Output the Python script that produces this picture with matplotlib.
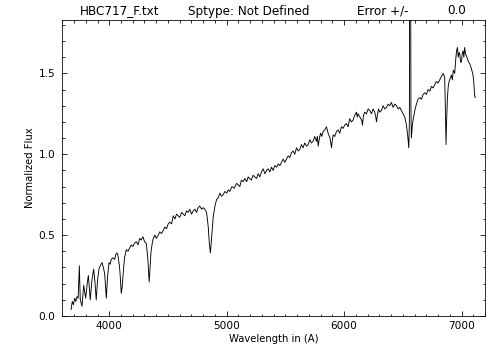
import matplotlib
matplotlib.use("Agg")
import matplotlib.pyplot as plt
from matplotlib.ticker import MultipleLocator

# spectrum
wave = [3675, 3685, 3695, 3705, 3715, 3725, 3735, 3745, 3753, 3768, 3782, 3799, 3812, 3822, 3838,
        3852, 3867, 3878, 3889, 3900, 3912, 3923, 3938, 3950, 3961, 3975, 3985, 3998, 4008, 4017,
        4030, 4046, 4055, 4066, 4075, 4088, 4094, 4102, 4110, 4117, 4130, 4145, 4160, 4173, 4188,
        4202, 4215, 4230, 4245, 4259, 4272, 4287, 4300, 4315, 4328, 4340, 4348, 4356, 4366, 4375,
        4389, 4400, 4418, 4430, 4446, 4460, 4474, 4488, 4502, 4516, 4531, 4545, 4559, 4573, 4587,
        4600, 4616, 4630, 4644, 4658, 4672, 4686, 4701, 4715, 4729, 4743, 4757, 4771, 4786, 4800,
        4814, 4829, 4843, 4852, 4861, 4866, 4871, 4885, 4900, 4914, 4928, 4942, 4956, 4970, 4985,
        5000, 5013, 5027, 5045, 5064, 5084, 5100, 5112, 5125, 5140, 5155, 5170, 5183, 5197, 5210,
        5225, 5240, 5254, 5268, 5282, 5296, 5311, 5325, 5340, 5354, 5368, 5382, 5396, 5410, 5425,
        5440, 5453, 5467, 5481, 5495, 5510, 5524, 5538, 5552, 5566, 5580, 5595, 5610, 5623, 5637,
        5651, 5665, 5680, 5694, 5708, 5722, 5736, 5750, 5765, 5772, 5779, 5790, 5800, 5810, 5821,
        5835, 5850, 5864, 5880, 5893, 5900, 5907, 5920, 5935, 5950, 5963, 5977, 5991, 6005, 6020,
        6034, 6048, 6062, 6076, 6090, 6105, 6112, 6119, 6135, 6150, 6156, 6165, 6176, 6190, 6205,
        6219, 6233, 6247, 6261, 6270, 6276, 6283, 6293, 6304, 6318, 6332, 6347, 6361, 6375, 6389,
        6403, 6418, 6432, 6446, 6460, 6474, 6488, 6503, 6517, 6531, 6541, 6551, 6556, 6560, 6565,
        6569, 6573, 6580, 6587, 6602, 6616, 6630, 6645, 6659, 6673, 6687, 6701, 6715, 6730, 6744,
        6758, 6772, 6786, 6800, 6814, 6828, 6843, 6850, 6857, 6862, 6868, 6873, 6880, 6887, 6894,
        6904, 6914, 6922, 6930, 6942, 6950, 6958, 6965, 6972, 6980, 6985, 6992, 6999, 7006, 7013,
        7020, 7027, 7034, 7041, 7050, 7060, 7070, 7084, 7098, 7105, 7112, 7118]
flux = [0.04, 0.09, 0.07, 0.11, 0.09, 0.12, 0.11, 0.31, 0.10, 0.06, 0.19, 0.11, 0.20, 0.25, 0.10,
        0.22, 0.29, 0.21, 0.10, 0.22, 0.29, 0.31, 0.33, 0.30, 0.26, 0.11, 0.24, 0.33, 0.32, 0.35,
        0.36, 0.35, 0.38, 0.39, 0.37, 0.30, 0.24, 0.14, 0.18, 0.25, 0.36, 0.41, 0.40, 0.42, 0.44,
        0.43, 0.45, 0.46, 0.44, 0.48, 0.47, 0.49, 0.46, 0.45, 0.36, 0.21, 0.30, 0.40, 0.45, 0.48,
        0.50, 0.48, 0.50, 0.52, 0.51, 0.53, 0.55, 0.54, 0.57, 0.58, 0.57, 0.62, 0.60, 0.63, 0.62,
        0.61, 0.64, 0.63, 0.62, 0.65, 0.64, 0.66, 0.63, 0.65, 0.66, 0.64, 0.67, 0.68, 0.66, 0.67,
        0.66, 0.64, 0.55, 0.45, 0.39, 0.43, 0.48, 0.61, 0.68, 0.72, 0.73, 0.76, 0.74, 0.75, 0.77,
        0.76, 0.78, 0.77, 0.80, 0.79, 0.82, 0.81, 0.80, 0.84, 0.83, 0.85, 0.83, 0.86, 0.85, 0.84,
        0.87, 0.86, 0.85, 0.88, 0.86, 0.89, 0.91, 0.88, 0.90, 0.91, 0.89, 0.92, 0.90, 0.93, 0.92,
        0.94, 0.93, 0.95, 0.97, 0.95, 0.97, 0.99, 0.98, 1.01, 1.02, 1.00, 1.04, 1.02, 1.03, 1.06,
        1.04, 1.07, 1.05, 1.06, 1.09, 1.07, 1.08, 1.11, 1.08, 1.11, 1.05, 1.10, 1.13, 1.11, 1.14,
        1.15, 1.17, 1.13, 1.10, 1.04, 1.09, 1.12, 1.11, 1.14, 1.15, 1.13, 1.17, 1.16, 1.18, 1.19,
        1.17, 1.22, 1.20, 1.21, 1.24, 1.26, 1.23, 1.25, 1.23, 1.21, 1.18, 1.24, 1.26, 1.25, 1.28,
        1.27, 1.25, 1.28, 1.26, 1.23, 1.20, 1.24, 1.28, 1.26, 1.27, 1.30, 1.28, 1.29, 1.31, 1.30,
        1.32, 1.29, 1.31, 1.30, 1.28, 1.29, 1.27, 1.25, 1.23, 1.18, 1.12, 1.04, 1.20, 3.00, 3.00,
        1.30, 1.10, 1.17, 1.21, 1.27, 1.31, 1.34, 1.35, 1.34, 1.37, 1.38, 1.37, 1.40, 1.39, 1.42,
        1.41, 1.43, 1.45, 1.44, 1.46, 1.48, 1.50, 1.49, 1.47, 1.30, 1.06, 1.20, 1.35, 1.42, 1.45,
        1.47, 1.49, 1.46, 1.52, 1.50, 1.58, 1.64, 1.66, 1.60, 1.63, 1.62, 1.57, 1.57, 1.62, 1.64,
        1.60, 1.66, 1.62, 1.61, 1.59, 1.57, 1.56, 1.53, 1.49, 1.44, 1.36, 1.35]

title_parts = ["HBC717_F.txt", "Sptype: Not Defined", "Error +/-", "0.0"]
title_x = [80, 188, 357, 447]

plt.rcParams['font.family'] = ['DejaVu Sans']

fig = plt.figure(figsize=(7, 5), dpi=72)
ax = fig.add_axes([62.3 / 504, 44 / 360, (485 - 62.3) / 504, 296 / 360])

ax.plot(wave, flux, color='black', lw=0.9)

ax.set_xlim(3600, 7200)
ax.set_ylim(0, 1.83)
ax.xaxis.set_major_locator(MultipleLocator(1000))
ax.xaxis.set_minor_locator(MultipleLocator(100))
ax.yaxis.set_major_locator(MultipleLocator(0.5))
ax.yaxis.set_minor_locator(MultipleLocator(0.1))
ax.yaxis.set_major_formatter(plt.FormatStrFormatter('%.1f'))
ax.tick_params(which='both', direction='in', top=True, right=True, labelsize=10.5, width=0.8)
ax.tick_params(which='major', length=5)
ax.tick_params(axis='x', which='major', pad=5)
ax.tick_params(axis='y', which='major', pad=7)
ax.tick_params(which='minor', length=2.5)
for s in ax.spines.values():
    s.set_linewidth(0.8)

ax.set_xlabel('Wavelength in (A)', fontsize=10, labelpad=3)
ax.set_ylabel('Normalized Flux', fontsize=10, labelpad=3)

for txt, px in zip(title_parts, title_x):
    fig.text(px / 504, 1 - 11 / 360, txt, fontsize=12, va='center', ha='left')

fig.savefig('out.png', dpi=72)
